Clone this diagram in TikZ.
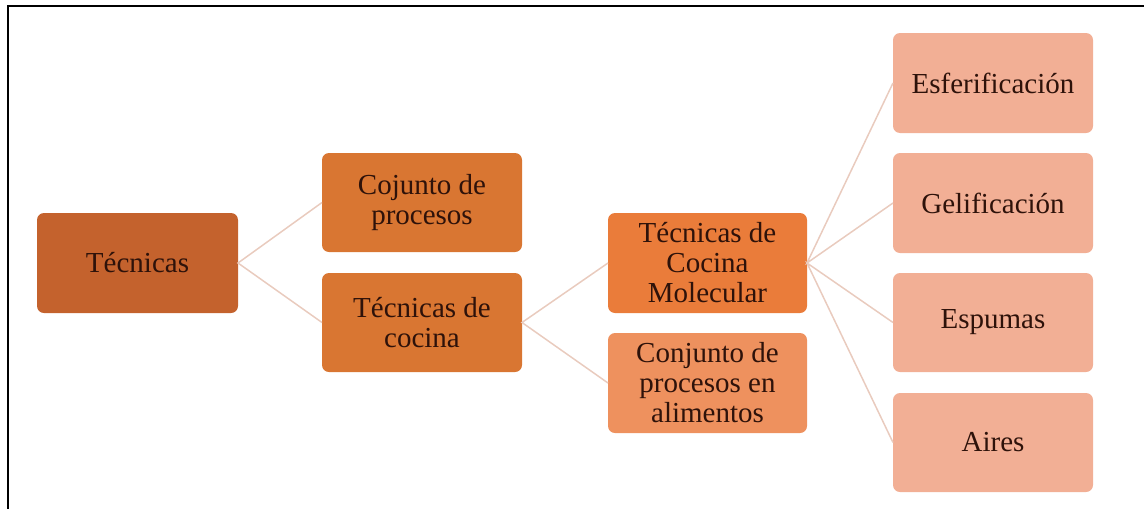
\documentclass[tikz,border=0pt]{standalone}
\usepackage{fontspec}
\setmainfont{Liberation Serif}
\definecolor{cA}{HTML}{C4622D}
\definecolor{cB}{HTML}{D97632}
\definecolor{cC}{HTML}{EA7C3A}
\definecolor{cD}{HTML}{EE915E}
\definecolor{cE}{HTML}{F2AF95}
\definecolor{txt}{HTML}{2E120A}
\definecolor{lnk}{HTML}{E9CBBE}
\begin{document}
\begin{tikzpicture}[x=1pt,y=-1pt,
  box/.style={text=txt, font=\fontsize{29}{30}\selectfont, align=center, inner sep=0pt},
  link/.style={draw=lnk, line width=1.5pt}]
\useasboundingbox (0,0) rectangle (1144,509);
\draw[line width=2.5pt, black] (8,509) -- (8,6) -- (1144,6);
\newcommand{\boxat}[7]{%
  \fill[#6, rounded corners=7pt] (#2,#3) rectangle (#4,#5);
  \node[box] (#1) at ({(#2+#4)/2},{(#3+#5)/2}) {#7};
  \coordinate (#1W) at (#2,{(#3+#5)/2});
  \coordinate (#1E) at (#4,{(#3+#5)/2});}
\boxat{tec}{37}{213}{238}{313}{cA}{Técnicas}
\boxat{coj}{322}{153}{522}{252}{cB}{Cojunto de\\procesos}
\boxat{tdc}{322}{273}{522}{372}{cB}{Técnicas de\\cocina}
\boxat{mol}{608}{213}{807}{313}{cC}{Técnicas de\\Cocina\\Molecular}
\boxat{cpa}{608}{333}{807}{433}{cD}{Conjunto de\\procesos en\\alimentos}
\boxat{esf}{893}{33}{1093}{133}{cE}{Esferificación}
\boxat{gel}{893}{153}{1093}{253}{cE}{Gelificación}
\boxat{esp}{893}{273}{1093}{372}{cE}{Espumas}
\boxat{air}{893}{393}{1093}{492}{cE}{Aires}
\draw[link] (cojW) -- (tecE) -- (tdcW);
\draw[link] (molW) -- (tdcE) -- (cpaW);
\draw[link] (esfW) -- (molE) -- (gelW);
\draw[link] (espW) -- (molE) -- (airW);
\end{tikzpicture}
\end{document}
